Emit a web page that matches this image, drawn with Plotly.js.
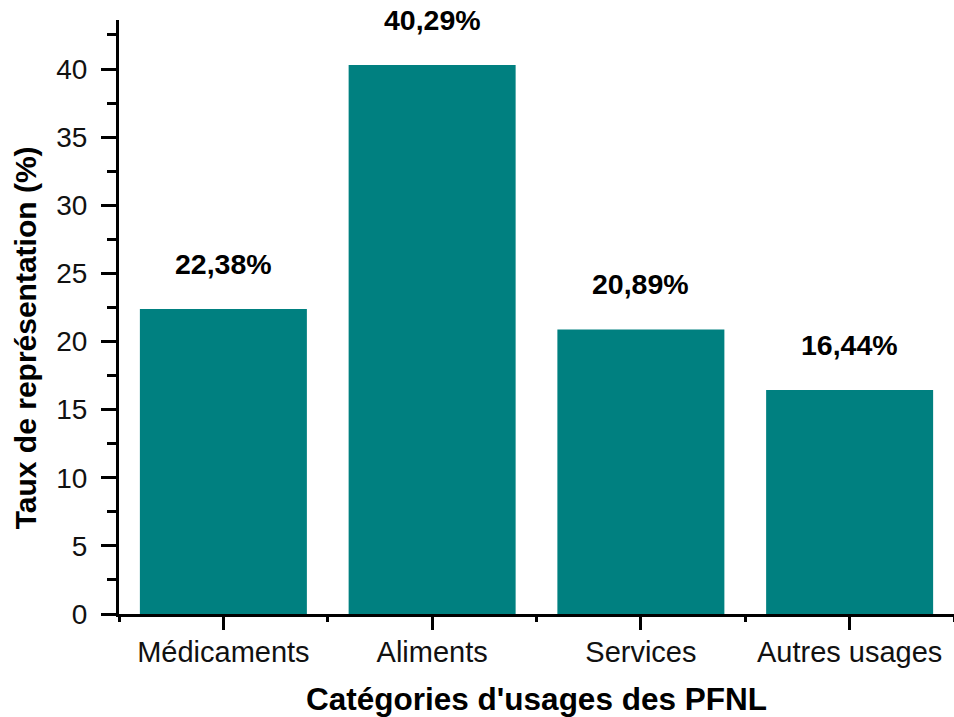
<!DOCTYPE html>
<html>
<head>
<meta charset="utf-8">
<script src="https://cdn.plot.ly/plotly-3.0.1.min.js"></script>
<style>html,body{margin:0;padding:0;background:#fff;}</style>
</head>
<body>
<div id="chart" style="width:954px;height:717px;"></div>
<script>
const categories = ["Médicaments", "Aliments", "Services", "Autres usages"];
const values = [22.38, 40.29, 20.89, 16.44];
const yTickVals = [0, 5, 10, 15, 20, 25, 30, 35, 40];
const xTitle = "Catégories d'usages des PFNL";
const yTitle = "Taux de représentation (%)";

const fontFam = "'Liberation Sans', Arial, Helvetica, sans-serif";

const traces = [
  {
    type: "bar",
    x: categories,
    y: values,
    marker: { color: "#008080", line: { width: 0 } },
    hoverinfo: "x+y",
    showlegend: false
  },
  {
    type: "scatter",
    mode: "markers",
    x: categories,
    y: values,
    xaxis: "x2",
    yaxis: "y",
    marker: { opacity: 0, size: 1 },
    hoverinfo: "skip",
    showlegend: false
  }
];

const annotations = categories.map((c, i) => ({
  x: c,
  y: values[i],
  xref: "x",
  yref: "y",
  text: values[i].toFixed(2).replace(".", ",") + "%",
  showarrow: false,
  yanchor: "middle",
  yshift: 45,
  font: { family: fontFam, size: 28.5, color: "#000", weight: "bold" }
}));

annotations.push({
  xref: "paper",
  yref: "paper",
  x: -0.112,
  y: 0.465,
  xanchor: "center",
  yanchor: "middle",
  textangle: -90,
  text: yTitle,
  showarrow: false,
  font: { family: fontFam, size: 30, color: "#000", weight: "bold" }
});

const layout = {
  width: 954,
  height: 717,
  margin: { l: 119, r: 0, t: 20, b: 103 },
  paper_bgcolor: "#fff",
  plot_bgcolor: "#fff",
  bargap: 0.2,
  font: { family: fontFam, color: "#000" },
  xaxis: {
    type: "category",
    range: [-0.5, 3.5],
    showline: true,
    linewidth: 3,
    linecolor: "#000",
    ticks: "outside",
    ticklen: 13,
    tickwidth: 3,
    tickcolor: "#000",
    showgrid: false,
    zeroline: false,
    ticklabelstandoff: -3,
    tickfont: { family: fontFam, size: 29, color: "#111" },
    title: { text: xTitle, font: { family: fontFam, size: 31.5, color: "#000", weight: "bold" }, standoff: 23 }
  },
  xaxis2: {
    type: "category",
    overlaying: "x",
    matches: "x",
    anchor: "y",
    side: "bottom",
    tickson: "boundaries",
    ticks: "outside",
    ticklen: 7,
    tickwidth: 3,
    tickcolor: "#000",
    showticklabels: false,
    showline: false,
    showgrid: false,
    zeroline: false
  },
  yaxis: {
    range: [0, 43.6],
    tickmode: "array",
    tickvals: yTickVals,
    showline: true,
    linewidth: 3,
    linecolor: "#000",
    ticks: "outside",
    ticklen: 15,
    tickwidth: 3,
    tickcolor: "#000",
    minor: { dtick: 2.5, tick0: 0, ticks: "outside", ticklen: 9, tickwidth: 3, tickcolor: "#000", showgrid: false },
    showgrid: false,
    zeroline: false,
    ticklabelstandoff: 8,
    tickfont: { family: fontFam, size: 28, color: "#111" }
  },
  annotations: annotations
};

Plotly.newPlot("chart", traces, layout, { displayModeBar: false, staticPlot: true });
</script>
</body>
</html>
